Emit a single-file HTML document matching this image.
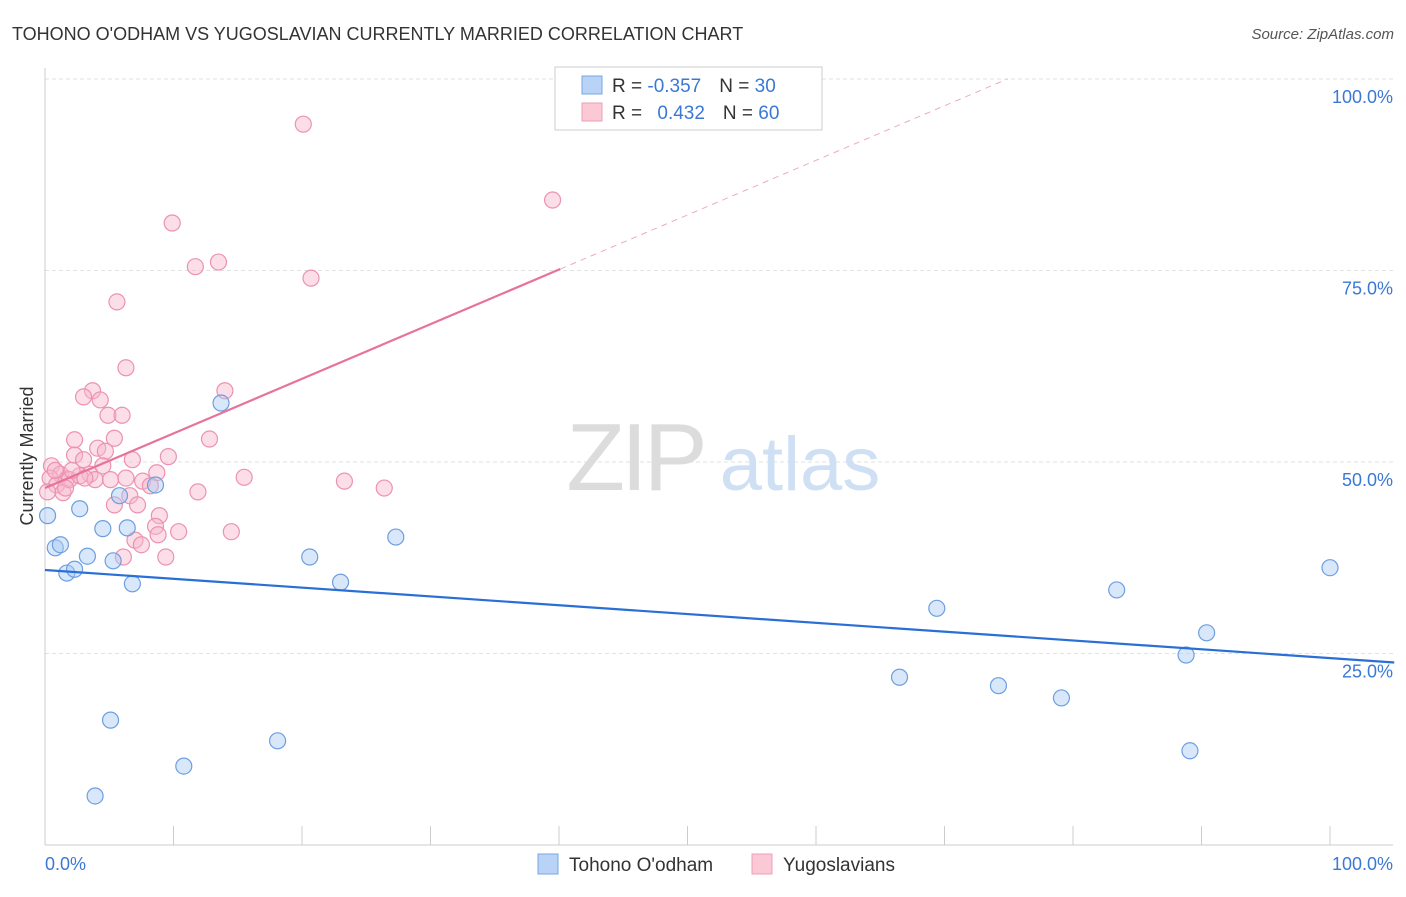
<!DOCTYPE html>
<html><head><meta charset="utf-8"><style>
body{margin:0;background:#fff;font-family:"Liberation Sans",sans-serif}
svg text{font-family:"Liberation Sans",sans-serif}
</style></head><body>
<svg id="chart" width="1406" height="892" viewBox="0 0 1406 892" xmlns="http://www.w3.org/2000/svg">
<text x="12" y="40" font-size="18" fill="#333">TOHONO O'ODHAM VS YUGOSLAVIAN CURRENTLY MARRIED CORRELATION CHART</text>
<text x="1394" y="39" font-size="15" fill="#555" text-anchor="end" font-style="italic">Source: ZipAtlas.com</text>
<g id="grid"></g>
<g>
<text x="635" y="490" font-size="96" fill="#dcdcdc" text-anchor="middle" font-family="Liberation Serif" letter-spacing="-4">ZIP</text>
<text x="800" y="490" font-size="76" fill="#cfe0f4" text-anchor="middle">atlas</text>
</g>
<line x1="45" y1="68" x2="45" y2="845" stroke="#ccc"/>
<line x1="45" y1="845" x2="1393" y2="845" stroke="#ccc"/>
<g id="xticks"></g>
<g id="ylabels"></g>
<text x="45" y="870" font-size="18" fill="#3b78d6">0.0%</text>
<text x="1393" y="870" font-size="18" fill="#3b78d6" text-anchor="end">100.0%</text>
<text transform="translate(33,456) rotate(-90)" font-size="18" fill="#333" text-anchor="middle">Currently Married</text>
<g id="pink"></g>
<g id="blue"></g>
<g id="lines"></g>
<g>
<rect x="555" y="67" width="267" height="63" fill="#fff" stroke="#ccc"/>
<rect x="582" y="76" width="20" height="18" fill="#b8d3f5" stroke="#7aa7e0"/>
<rect x="582" y="103" width="20" height="18" fill="#fbc8d6" stroke="#ee9fb9"/>
<text x="612" y="92" font-size="19" fill="#333">R = <tspan fill="#3b78d6">-0.357</tspan><tspan dx="18">N = </tspan><tspan fill="#3b78d6">30</tspan></text>
<text x="612" y="119" font-size="19" fill="#333">R = <tspan fill="#3b78d6" dx="10">0.432</tspan><tspan dx="18">N = </tspan><tspan fill="#3b78d6">60</tspan></text>
</g>
<g>
<rect x="538" y="854" width="20" height="20" fill="#b8d3f5" stroke="#7aa7e0"/>
<text x="569" y="871" font-size="19" fill="#333">Tohono O'odham</text>
<rect x="752" y="854" width="20" height="20" fill="#fbc8d6" stroke="#ee9fb9"/>
<text x="783" y="871" font-size="19" fill="#333">Yugoslavians</text>
</g>
</svg>
<script>
const yTicks=[25,50,75,100];
const yTickLabels=["25.0%","50.0%","75.0%","100.0%"];
const xTicks=[0,10,20,30,40,50,60,70,80,90,100];
const blueX=[0.2,0.8,1.2,1.7,2.3,2.7,3.3,3.9,4.5,5.1,5.3,5.8,6.4,6.8,8.6,10.8,13.7,18.1,20.6,23,27.3,66.5,69.4,74.2,79.1,83.4,88.8,89.1,90.4,100];
const blueY=[43,38.8,39.2,35.5,36,43.9,37.7,6.4,41.3,16.3,37.1,45.6,41.4,34.1,47,10.3,57.7,13.6,37.6,34.3,40.2,21.9,30.9,20.8,19.2,33.3,24.8,12.3,27.7,36.2];
const pinkX=[20.1,39.5,9.9,11.7,13.5,20.7,5.6,6.3,3.7,3,4.3,14,4.9,6,2.3,5.4,12.8,4.1,4.7,2.3,3,9.6,6.8,4.5,0.5,1.2,0.4,3.5,8.7,15.5,1.7,0.9,3.9,5.1,6.3,7.6,8.2,23.3,26.4,1.4,11.9,6.6,0.2,5.4,7.2,8.9,8.6,10.4,14.5,8.8,7,7.5,6.1,9.4,1.9,2.7,1.6,3.1,0.8,2.1];
const pinkY=[94.1,84.2,81.2,75.5,76.1,74,70.9,62.3,59.3,58.5,58.1,59.3,56.1,56.1,52.9,53.1,53,51.8,51.4,50.9,50.3,50.7,50.3,49.5,49.5,48.4,47.9,48.4,48.6,48,47.8,47,47.7,47.7,47.9,47.5,46.9,47.5,46.6,46,46.1,45.6,46.1,44.4,44.4,43,41.6,40.9,40.9,40.5,39.8,39.2,37.6,37.6,47.7,48.2,46.6,47.9,48.9,48.9];
const blueTrend=[35.9,-0.115];
const pinkTrend=[46.6,0.713];
const NS="http://www.w3.org/2000/svg";
const sx=v=>45+v*12.85, sy=v=>845-v*7.66;
function mk(t,a,p){const e=document.createElementNS(NS,t);for(const k in a)e.setAttribute(k,a[k]);p.appendChild(e);return e;}
const grid=document.getElementById('grid'),yl=document.getElementById('ylabels'),xt=document.getElementById('xticks');
yTicks.forEach((v,i)=>{
 const l=mk('line',{x1:45,x2:1393,y1:sy(v),y2:sy(v),stroke:'#e2e2e2','stroke-dasharray':'4,3'},grid);
 
 
 const t=mk('text',{x:1393,y:sy(v)+24,'font-size':18,fill:'#3b78d6','text-anchor':'end'},yl);
 t.textContent=yTickLabels[i];
 
 
});
xTicks.forEach(v=>{
 const l=mk('line',{x1:sx(v),x2:sx(v),y1:826,y2:845,stroke:'#ccc'},xt);
 
 
});
function pts(xs,ys,g,fill,stroke,name){xs.forEach((x,i)=>{
 const c=mk('circle',{cx:sx(x),cy:sy(ys[i]),r:8,fill:fill,'fill-opacity':0.45,stroke:stroke,'stroke-width':1.2},g);
 
 
});}
pts(pinkX,pinkY,document.getElementById('pink'),'#f7b6ca','#ec92b1','yugoslavian-point');
pts(blueX,blueY,document.getElementById('blue'),'#a9c9f1','#6d9fe0','tohono-point');
const lg=document.getElementById('lines');
let a=mk('line',{x1:sx(0),y1:sy(blueTrend[0]),x2:sx(105),y2:sy(blueTrend[0]+105*blueTrend[1]),stroke:'#2a6fd6','stroke-width':2.2},lg);


const xe=(100-pinkTrend[0])/pinkTrend[1];
let b=mk('line',{x1:sx(0),y1:sy(pinkTrend[0]),x2:sx(40.1),y2:sy(pinkTrend[0]+40.1*pinkTrend[1]),stroke:'#e8739a','stroke-width':2.2},lg);


let c=mk('line',{x1:sx(40.1),y1:sy(pinkTrend[0]+40.1*pinkTrend[1]),x2:sx(xe),y2:sy(100),stroke:'#eeaac0','stroke-width':1,'stroke-dasharray':'6,5'},lg);


</script>
</body></html>
